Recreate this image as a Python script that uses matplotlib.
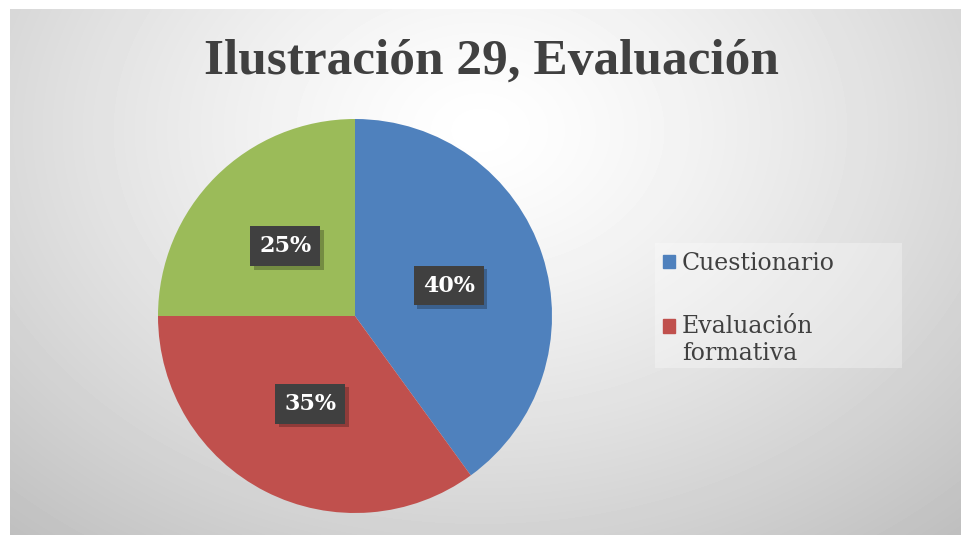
import numpy as np
import matplotlib
matplotlib.use("Agg")
import matplotlib.pyplot as plt
import matplotlib.patheffects as pe
from matplotlib.legend_handler import HandlerPatch
from matplotlib.patches import Patch, Rectangle

labels = ["Cuestionario", "Evaluación\nformativa", ""]
values = [40, 35, 25]
colors = ["#4F81BD", "#C0504D", "#9BBB59"]
title = "Ilustración 29, Evaluación"

W, H = 961, 535
fig = plt.figure(figsize=(W / 100, H / 100), dpi=100)
fig.patch.set_facecolor("white")

# radial grey background of the chart area
bg = fig.add_axes([10 / W, 0, 1 - 10 / W, 1 - 9 / H])
yy, xx = np.mgrid[9:H, 10:W]
d = np.hypot((xx - 480) / 600, (yy - 130) / 450)
shade = np.clip(1.0 - 0.2 * d ** 1.3, 0, 1)
bg.imshow(shade, cmap="gray", vmin=0, vmax=1, aspect="auto", interpolation="bilinear")
bg.axis("off")

R = 197
cx, cy = 355, 316
ax = fig.add_axes([(cx - R) / W, (H - cy - R) / H, 2 * R / W, 2 * R / H])
wedges, _, autotexts = ax.pie(
    values,
    colors=colors,
    startangle=90,
    counterclock=False,
    autopct="%1.0f%%",
    pctdistance=0.5,
    wedgeprops=dict(linewidth=0),
    textprops=dict(color="white", fontsize=16, fontweight="bold", family="DejaVu Serif"),
)
ax.set_xlim(-1, 1)
ax.set_ylim(-1, 1)

for t in autotexts:
    t.set_bbox(dict(boxstyle="square,pad=0.4", fc="#404040", ec="none"))
    t.get_bbox_patch().set_path_effects(
        [pe.SimplePatchShadow(offset=(2.5, -2.5), shadow_rgbFace="black", alpha=0.25), pe.Normal()]
    )

# legend area
fig.patches.append(Rectangle((655 / W, 1 - 368 / H), 247 / W, 125 / H,
                             transform=fig.transFigure, fc=(1, 1, 1, 0.3), ec="none"))


def first_line_patch(legend, orig_handle, xdescent, ydescent, width, height, fontsize):
    # put the marker next to the first line of a two-line label
    return Rectangle((-xdescent, -ydescent + 0.62 * fontsize), width, height)


handles = [Patch(color=colors[0]), Patch(color=colors[1])]
leg = fig.legend(
    handles,
    labels[:2],
    loc="upper left",
    bbox_to_anchor=(663 / W, 1 - 252 / H),
    frameon=False,
    prop=dict(family="DejaVu Serif", size=17),
    handlelength=0.5,
    handleheight=0.5,
    handletextpad=0.3,
    labelspacing=1.7,
    borderpad=0,
    borderaxespad=0,
    handler_map={handles[1]: HandlerPatch(patch_func=first_line_patch)},
)
for txt in leg.get_texts():
    txt.set_color("#404040")
    txt.set_linespacing(1.2)

fig.text(491 / W, 1 - 62 / H, title, ha="center", va="center",
         fontsize=37, fontweight="bold", family="Liberation Serif", color="#404040")

fig.savefig("out.png", dpi=100)
